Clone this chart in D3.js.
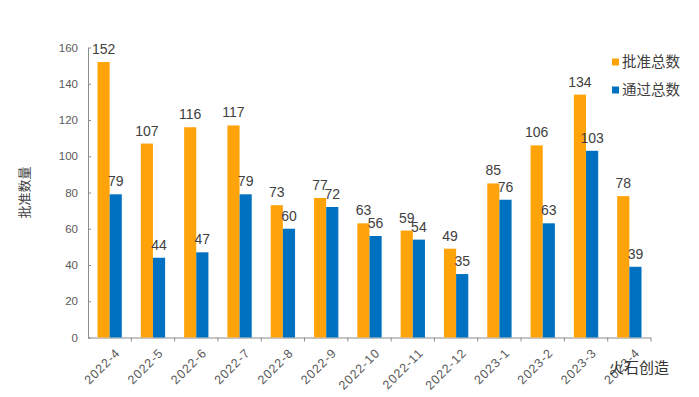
<!DOCTYPE html>
<head>
<meta charset="utf-8">
<style>
body { margin: 0; background: #fff; }
svg { font-family: "Liberation Sans", "Noto Sans CJK SC", sans-serif; }
.axis path, .axis line { stroke: #8c8c8c; }
</style>
</head>
<body>
<script src="https://cdnjs.cloudflare.com/ajax/libs/d3/7.8.5/d3.min.js"></script>
<script>
var months = ["2022-4","2022-5","2022-6","2022-7","2022-8","2022-9","2022-10","2022-11","2022-12","2023-1","2023-2","2023-3","2023-4"];
var approved = [152,107,116,117,73,77,63,59,49,85,106,134,78];
var passed = [79,44,47,79,60,72,56,54,35,76,63,103,39];
var seriesNames = ["批准总数","通过总数"];
var colors = ["#FFA30B","#0070C0"];
var yTicks = [0,20,40,60,80,100,120,140,160];

(function() {
	var W = 699, H = 397,
		margin = {top: 47.5, right: 48, bottom: 59.5, left: 88},
		w = W - margin.left - margin.right,
		h = H - margin.top - margin.bottom;

	var svg = d3.select("body").append("svg")
		.attr("width", W)
		.attr("height", H);

	var vis = svg.append("g")
		.attr("transform", "translate(" + margin.left + "," + margin.top + ")");

	var x = d3.scaleBand().domain(months).range([0, w]);
	var inner = d3.scaleBand().domain([0, 1]).range([9.5, x.bandwidth() - 9.5]);
	var y = d3.scaleLinear().domain([0, 160]).range([h, 0]);

	// y axis, ticks pointing in
	var yAxis = vis.append("g").attr("class", "axis")
		.call(d3.axisLeft(y).tickValues(yTicks).tickSize(-3).tickSizeOuter(0).tickPadding(10));
	yAxis.selectAll("text").attr("fill", "#595959").style("font-size", "11.5px");

	// x axis with ticks between categories
	var xAxis = vis.append("g").attr("class", "axis")
		.attr("transform", "translate(0," + h + ")");
	xAxis.append("line").attr("x1", 0).attr("x2", w).attr("y1", 0.5).attr("y2", 0.5);
	xAxis.selectAll(".tk").data(months).enter().append("line")
		.attr("x1", function(d) { return x(d) + x.bandwidth(); })
		.attr("x2", function(d) { return x(d) + x.bandwidth(); })
		.attr("y1", 0).attr("y2", 4);
	xAxis.selectAll(".lbl").data(months).enter().append("text")
		.attr("transform", function(d) {
			return "translate(" + (x(d) + x.bandwidth() / 2 + 5) + ",10) rotate(-45)";
		})
		.attr("text-anchor", "end")
		.attr("dy", "0.7em")
		.attr("fill", "#595959")
		.style("font-size", "12.5px")
		.style("letter-spacing", "0.9px")
		.text(function(d) { return d; });

	var series = [approved, passed];
	series.forEach(function(vals, s) {
		var g = vis.append("g");
		g.selectAll("rect").data(vals).enter().append("rect")
			.attr("x", function(d, i) { return x(months[i]) + inner(s); })
			.attr("width", inner.bandwidth())
			.attr("y", function(d) { return y(d); })
			.attr("height", function(d) { return h - y(d); })
			.attr("fill", colors[s]);
		g.selectAll("text").data(vals).enter().append("text")
			.attr("x", function(d, i) { return x(months[i]) + inner(s) + inner.bandwidth() / 2; })
			.attr("y", function(d) { return y(d) - 8; })
			.attr("text-anchor", "middle")
			.attr("fill", "#404040")
			.style("font-size", "14px")
			.text(function(d) { return d; });
	});

	// y title
	svg.append("text")
		.attr("transform", "translate(29," + (margin.top + h / 2) + ") rotate(-90)")
		.attr("text-anchor", "middle")
		.attr("fill", "#404040")
		.style("font-size", "13px")
		.style("font-family", "Noto Sans CJK SC")
		.text("批准数量");

	// legend
	var legend = svg.append("g").attr("transform", "translate(612,62)");
	seriesNames.forEach(function(name, i) {
		var lg = legend.append("g").attr("transform", "translate(0," + (i * 28) + ")");
		lg.append("rect").attr("x", 0).attr("y", -3.5).attr("width", 7).attr("height", 7).attr("fill", colors[i]);
		lg.append("text").attr("x", 10).attr("y", 0).attr("dy", "0.35em")
			.attr("fill", "#404040")
			.style("font-size", "14.5px")
			.style("font-family", "Noto Sans CJK SC")
			.text(name);
	});

	// watermark
	svg.append("text")
		.attr("x", 609).attr("y", 373)
		.attr("fill", "#333")
		.style("font-size", "15px")
		.style("font-family", "Noto Sans CJK SC")
		.text("火石创造");
})();
</script>
</body>
